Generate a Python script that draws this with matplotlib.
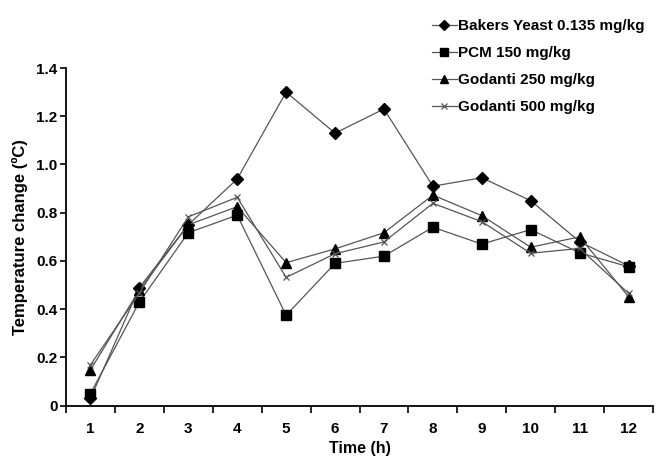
import matplotlib
matplotlib.use("Agg")
import matplotlib.pyplot as plt
import numpy as np

plt.rcParams['font.family'] = ['Liberation Sans', 'DejaVu Sans']
plt.rcParams['font.weight'] = 'bold'

hours = [1, 2, 3, 4, 5, 6, 7, 8, 9, 10, 11, 12]
bakers = [0.03, 0.49, 0.75, 0.94, 1.30, 1.13, 1.23, 0.91, 0.945, 0.85, 0.68, 0.58]
pcm = [0.05, 0.43, 0.717, 0.79, 0.375, 0.59, 0.62, 0.74, 0.67, 0.73, 0.634, 0.576]
god250 = [0.148, 0.48, 0.75, 0.825, 0.593, 0.65, 0.717, 0.873, 0.788, 0.657, 0.70, 0.452]
god500 = [0.169, 0.467, 0.783, 0.864, 0.532, 0.63, 0.679, 0.839, 0.763, 0.632, 0.652, 0.466]
labels = ["Bakers Yeast 0.135 mg/kg", "PCM 150 mg/kg", "Godanti 250 mg/kg", "Godanti 500 mg/kg"]
yticks = [0, 0.2, 0.4, 0.6, 0.8, 1.0, 1.2, 1.4]
ytick_labels = ["0", "0.2", "0.4", "0.6", "0.8", "1.0", "1.2", "1.4"]

fig = plt.figure(figsize=(6.56, 4.57), dpi=100)
ax = fig.add_axes([66/656, 1-405.7/457, 587/656, (405.7-68)/457])

lc = '#555555'
h1, = ax.plot(hours, bakers, color=lc, lw=0.9, marker='D', ms=6, mfc='black', mec='black', label=labels[0])
h2, = ax.plot(hours, pcm, color=lc, lw=0.9, marker='s', ms=7.5, mfc='black', mec='black', label=labels[1])
h3, = ax.plot(hours, god250, color=lc, lw=0.9, marker='^', ms=6.5, mfc='black', mec='black', label=labels[2])
h4, = ax.plot(hours, god500, color=lc, lw=0.9, marker='x', ms=5, mfc=lc, mec=lc, mew=0.9, label=labels[3])

ax.set_xlim(0.5, 12.5)
ax.set_ylim(0, 1.4)
ax.set_xticks(hours)
ax.set_xticklabels([str(h) for h in hours], fontsize=11, fontweight='bold')
ax.set_xticks(np.arange(0.5, 13, 1), minor=True)
ax.tick_params(axis='x', which='major', length=0, pad=12)
ax.tick_params(axis='x', which='minor', length=5, width=1.2, direction='out')
ax.set_yticks(yticks)
ax.set_yticklabels(ytick_labels, fontsize=11, fontweight='bold')
ax.tick_params(axis='y', length=4, width=1.2, direction='out', pad=2)
ax.spines['top'].set_visible(False)
ax.spines['right'].set_visible(False)
ax.spines['left'].set_linewidth(1.3)
ax.spines['bottom'].set_linewidth(1.3)

ax.set_xlabel("Time (h)", fontsize=11.5, fontweight='bold', labelpad=3)
ax.set_ylabel("Temperature change (ºC)", fontsize=12, fontweight='bold', labelpad=6)

fig.legend(handles=[h1, h2, h3, h4], loc='upper left', bbox_to_anchor=(426/656, 1-13/457),
           frameon=False, handlelength=1.6, handletextpad=0.12,
           labelspacing=0.85, borderaxespad=0, markerscale=0.8,
           prop={'weight': 'bold', 'size': 11})

fig.savefig("out.png", dpi=100)
